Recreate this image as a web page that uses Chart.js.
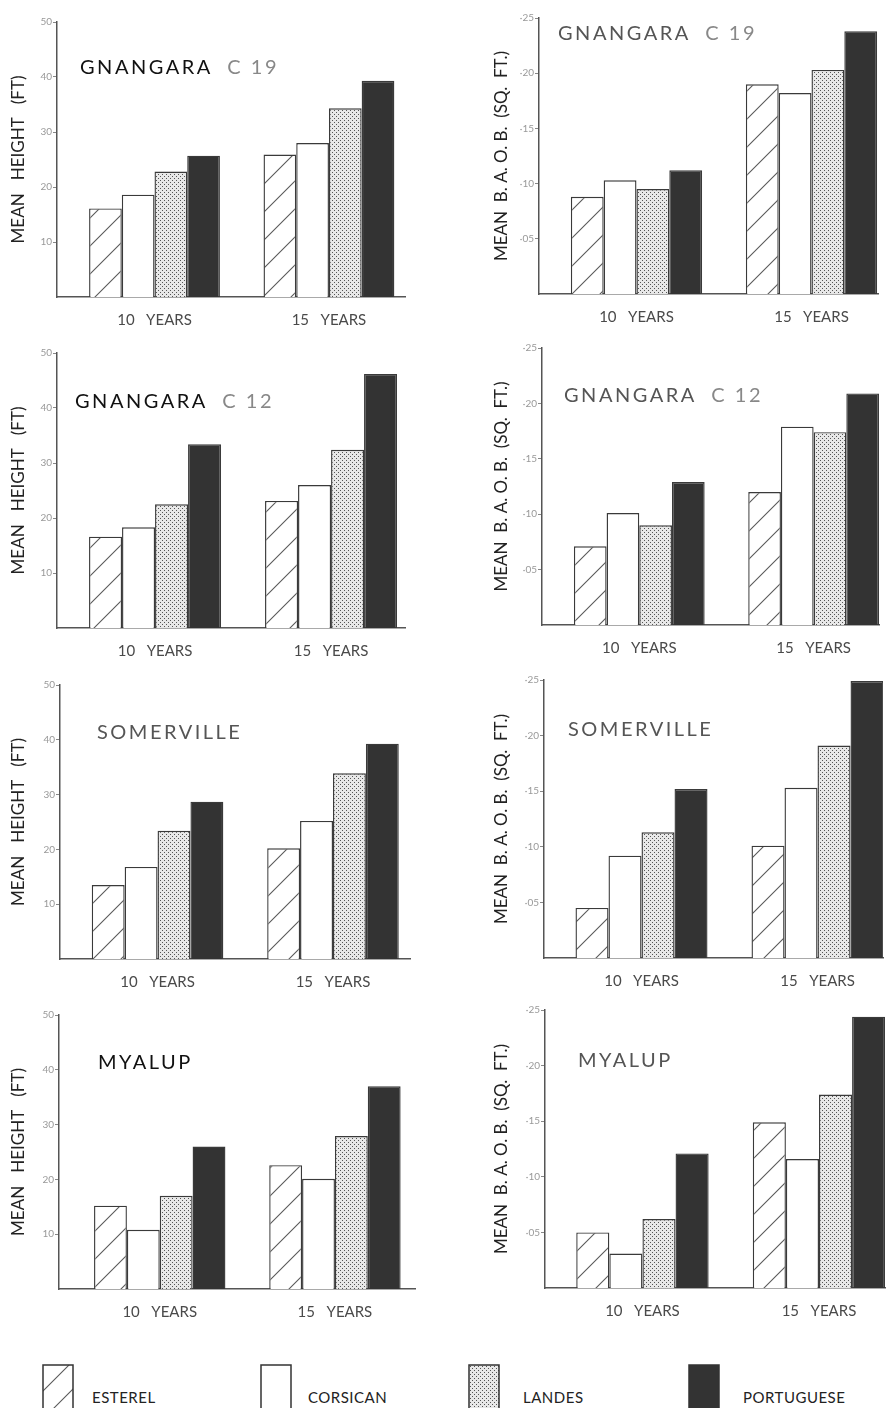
<!DOCTYPE html>
<html>
<head>
<meta charset="utf-8">
<script src="https://cdn.jsdelivr.net/npm/chart.js@4.4.1/dist/chart.umd.min.js"></script>
<style>
  body { margin: 0; background: #fff; }
  #page { position: relative; width: 893px; height: 1408px; overflow: hidden; font-family: Lato, "Open Sans", sans-serif; }
  canvas.panel { position: absolute; }
  .site { position: absolute; font-size: 20px; line-height: 20px; letter-spacing: 2.5px; white-space: pre; }
  .site .num { color: #888; }
  .key { position: absolute; top: 1364px; }
  .key-label { position: absolute; top: 1389px; font-size: 15px; line-height: 16px; color: #222; letter-spacing: 0.5px; }
</style>
</head>
<body>
<div id="page"></div>
<script>
// species order matches the legend; each array is [Esterel, Corsican, Landes, Portuguese]
var species = ['ESTEREL', 'CORSICAN', 'LANDES', 'PORTUGUESE'];
var ages = ['10   YEARS', '15   YEARS'];
var heightTicks = [10, 20, 30, 40, 50];
var baobTicks = [0.05, 0.10, 0.15, 0.20, 0.25];

// mean height (ft)
var c19Height10 = [16.1, 18.6, 22.8, 25.7];
var c19Height15 = [25.9, 28.0, 34.3, 39.3];
var c12Height10 = [16.6, 18.3, 22.5, 33.4];
var c12Height15 = [23.1, 26.0, 32.4, 46.2];
var somHeight10 = [13.5, 16.8, 23.4, 28.7];
var somHeight15 = [20.2, 25.2, 33.9, 39.3];
var myaHeight10 = [15.2, 10.8, 17.0, 26.0];
var myaHeight15 = [22.6, 20.1, 27.9, 37.0];

// mean basal area over bark (sq ft)
var c19Baob10 = [0.088, 0.103, 0.095, 0.112];
var c19Baob15 = [0.190, 0.182, 0.203, 0.238];
var c12Baob10 = [0.071, 0.101, 0.090, 0.129];
var c12Baob15 = [0.120, 0.179, 0.174, 0.209];
var somBaob10 = [0.045, 0.092, 0.113, 0.152];
var somBaob15 = [0.101, 0.153, 0.191, 0.249];
var myaBaob10 = [0.050, 0.031, 0.062, 0.121];
var myaBaob15 = [0.149, 0.116, 0.174, 0.244];

var page = document.getElementById('page');

function hatchFill() {
  var c = document.createElement('canvas');
  c.width = c.height = 28;
  var g = c.getContext('2d');
  g.fillStyle = '#fff';
  g.fillRect(0, 0, 28, 28);
  g.strokeStyle = '#5a5a5a';
  g.lineWidth = 1.1;
  g.beginPath();
  g.moveTo(-2, 30); g.lineTo(30, -2);
  g.moveTo(-2, 2); g.lineTo(2, -2);
  g.moveTo(26, 30); g.lineTo(30, 26);
  g.stroke();
  return g.createPattern(c, 'repeat');
}

function dotFill() {
  var c = document.createElement('canvas');
  c.width = c.height = 4;
  var g = c.getContext('2d');
  g.fillStyle = '#e8e8e8';
  g.fillRect(0, 0, 4, 4);
  g.fillStyle = '#555';
  g.fillRect(0, 0, 1, 1);
  g.fillRect(2, 2, 1, 1);
  return g.createPattern(c, 'repeat');
}

var fills = [hatchFill(), '#fff', dotFill(), '#333'];

var panels = [
  { site: 'GNANGARA', num: 'C 19', ten: c19Height10, fifteen: c19Height15, kind: 'height',
    x: 0, y: 0, w: 446, h: 330, axis: 57, top: 22, base: 297, right: 41, xmin: 0.441, xmax: 2.436,
    tx: 80, ty: 56, dark: true },
  { site: 'GNANGARA', num: 'C 19', ten: c19Baob10, fifteen: c19Baob15, kind: 'baob',
    x: 446, y: 0, w: 447, h: 330, axis: 93, top: 18, base: 294, right: 15, xmin: 0.443, xmax: 2.38,
    tx: 558, ty: 22 },
  { site: 'GNANGARA', num: 'C 12', ten: c12Height10, fifteen: c12Height15, kind: 'height',
    x: 0, y: 330, w: 446, h: 330, axis: 57, top: 23, base: 298, right: 41, xmin: 0.443, xmax: 2.42,
    tx: 75, ty: 390, dark: true },
  { site: 'GNANGARA', num: 'C 12', ten: c12Baob10, fifteen: c12Baob15, kind: 'baob',
    x: 446, y: 330, w: 447, h: 330, axis: 96, top: 18, base: 295, right: 14, xmin: 0.442, xmax: 2.375,
    tx: 564, ty: 384 },
  { site: 'SOMERVILLE', num: '', ten: somHeight10, fifteen: somHeight15, kind: 'height',
    x: 0, y: 660, w: 446, h: 330, axis: 60, top: 25, base: 299, right: 36, xmin: 0.444, xmax: 2.439,
    tx: 97, ty: 721 },
  { site: 'SOMERVILLE', num: '', ten: somBaob10, fifteen: somBaob15, kind: 'baob',
    x: 446, y: 660, w: 447, h: 330, axis: 98, top: 20, base: 298, right: 10, xmin: 0.446, xmax: 2.372,
    tx: 568, ty: 718 },
  { site: 'MYALUP', num: '', ten: myaHeight10, fifteen: myaHeight15, kind: 'height',
    x: 0, y: 990, w: 446, h: 350, axis: 59, top: 25, base: 299, right: 31, xmin: 0.425, xmax: 2.457,
    tx: 98, ty: 1051, dark: true },
  { site: 'MYALUP', num: '', ten: myaBaob10, fifteen: myaBaob15, kind: 'baob',
    x: 446, y: 990, w: 447, h: 350, axis: 99, top: 20, base: 298, right: 8, xmin: 0.448, xmax: 2.374,
    tx: 578, ty: 1049 }
];

function baobLabel(v) {
  var n = Math.round(v * 100);
  return '\u00b7' + (n < 10 ? '0' + n : n);
}

function makePanel(p) {
  var canvas = document.createElement('canvas');
  canvas.className = 'panel';
  canvas.width = p.w;
  canvas.height = p.h;
  canvas.style.left = p.x + 'px';
  canvas.style.top = p.y + 'px';
  page.appendChild(canvas);

  var isHeight = p.kind === 'height';
  var yTicks = isHeight ? heightTicks : baobTicks;

  var datasets = species.map(function(name, i) {
    return {
      label: name,
      data: [{ x: 1, y: p.ten[i] }, { x: 2, y: p.fifteen[i] }],
      backgroundColor: fills[i],
      borderColor: '#3a3a3a',
      borderWidth: 1.4,
      categoryPercentage: 0.75,
      barPercentage: 1
    };
  });

  new Chart(canvas, {
    type: 'bar',
    data: { datasets: datasets },
    options: {
      responsive: false,
      animation: false,
      layout: { padding: { top: p.top, right: p.right, left: 0, bottom: 0 } },
      plugins: { legend: { display: false }, tooltip: { enabled: false } },
      scales: {
        x: {
          type: 'linear',
          min: p.xmin,
          max: p.xmax,
          offset: false,
          grid: { display: false, drawTicks: false },
          border: { display: true, color: '#555', width: 1.5 },
          afterBuildTicks: function(scale) {
            scale.ticks = [{ value: 1 }, { value: 2 }];
          },
          afterFit: function(scale) { scale.height = p.h - p.base; },
          ticks: {
            padding: 14,
            color: '#4a4a4a',
            font: { family: 'Lato', size: 15 },
            maxRotation: 0,
            callback: function(v) { return ages[v - 1]; }
          }
        },
        y: {
          min: 0,
          max: yTicks[yTicks.length - 1],
          afterBuildTicks: function(scale) {
            scale.ticks = yTicks.map(function(v) { return { value: v }; });
          },
          afterFit: function(scale) { scale.width = p.axis; },
          grid: { display: true, drawOnChartArea: false, drawTicks: true, tickLength: 4, color: '#888' },
          border: { display: true, color: '#555', width: 1.5 },
          ticks: {
            padding: 1,
            color: '#999',
            font: { family: 'Lato', size: 10 },
            callback: function(v) { return isHeight ? String(v) : baobLabel(v); }
          },
          title: {
            display: true,
            text: isHeight ? 'MEAN   HEIGHT   (FT)' : 'MEAN  B. A. O. B.  (SQ.  FT.)',
            color: '#222',
            font: { family: 'Lato', size: 17 },
            padding: { top: isHeight ? 8 : 45, bottom: 0 }
          }
        }
      }
    }
  });

  var t = document.createElement('div');
  t.className = 'site';
  t.style.left = p.tx + 'px';
  t.style.top = p.ty + 'px';
  t.style.color = p.dark ? '#111' : '#555';
  t.textContent = p.site;
  if (p.num) {
    var n = document.createElement('span');
    n.className = 'num';
    n.textContent = '  ' + p.num;
    t.appendChild(n);
  }
  page.appendChild(t);
}

panels.forEach(makePanel);

// legend keys along the bottom
var keyX = [42, 260, 468, 688];
var keyLabelX = [92, 308, 523, 743];
species.forEach(function(name, i) {
  var c = document.createElement('canvas');
  c.className = 'key';
  c.width = 32;
  c.height = 46;
  c.style.left = keyX[i] + 'px';
  page.appendChild(c);
  var g = c.getContext('2d');
  g.fillStyle = fills[i];
  g.fillRect(1, 1, 30, 45);
  g.strokeStyle = '#333';
  g.lineWidth = 1.5;
  g.beginPath();
  g.moveTo(1, 46); g.lineTo(1, 1); g.lineTo(31, 1); g.lineTo(31, 46);
  g.stroke();

  var lab = document.createElement('div');
  lab.className = 'key-label';
  lab.style.left = keyLabelX[i] + 'px';
  lab.textContent = name;
  page.appendChild(lab);
});
</script>
</body>
</html>
